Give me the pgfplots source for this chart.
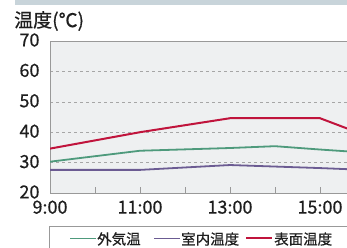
\documentclass[border=0pt]{standalone}
\usepackage{pgfplots}
\pgfplotsset{compat=1.18}
\usepackage{fontspec}
\setmainfont{Noto Sans CJK JP}[FakeBold=0.6]
\definecolor{cgreen}{HTML}{4E9A7C}
\definecolor{cpurple}{HTML}{6B5B92}
\definecolor{cred}{HTML}{C0143C}
\definecolor{bgplot}{HTML}{EEF0F1}
\definecolor{txt}{HTML}{1E1E1E}
\begin{document}
\begin{tikzpicture}[x=1pt,y=1pt]
\useasboundingbox (0,0) rectangle (347,248);
\clip (0,0) rectangle (347,248);
\fill[color=white] (0,0) rectangle (347,248);
\fill[color={rgb,255:red,200;green,212;blue,218}] (15,243) rectangle (347,248);
\node[anchor=west, inner sep=0pt, font=\fontsize{19}{19}\selectfont, text=txt] at (14,227) {温度(℃)};
\begin{axis}[
  at={(50pt,55pt)}, anchor=south west,
  scale only axis, width=315pt, height=152pt,
  xmin=9, xmax=16, ymin=20, ymax=70,
  xtick={9,10,11,12,13,14,15,16},
  xticklabels={9:00,,11:00,,13:00,,15:00,},
  ytick={20,30,40,50,60,70},
  xtick pos=bottom, tick align=inside,
  major tick length=6pt,
  ytick style={draw=none},
  xtick style={color=gray!80, line width=0.6pt},
  ymajorgrids=true,
  grid style={dashed, color=gray!70, line width=0.5pt},
  axis line style={color=gray!80, line width=0.8pt},
  axis background/.style={fill=bgplot},
  ticklabel style={font=\fontsize{18}{18}\selectfont, text=txt},
  /pgf/number format/assume math mode=true,
  yticklabel style={xshift=-7pt, yshift=1pt},
  xticklabel style={yshift=-4pt},
  clip=true,
]
\addplot[cgreen, line width=1.8pt] coordinates {(9,30.3) (11,33.9) (13,34.8) (14,35.4) (15,34.3) (16,33.3)};
\addplot[cpurple, line width=1.8pt] coordinates {(9,27.6) (11,27.6) (13,29.2) (15,28.2) (16,27.6)};
\addplot[cred, line width=2pt] coordinates {(9,34.6) (11,40) (13,44.6) (15,44.6) (16,39)};
\end{axis}
\draw[color=gray!80, line width=0.8pt] (49,-5) -- (49,21.5) -- (360,21.5);
\draw[cgreen, line width=1.8pt] (70,9.5) -- (96,9.5);
\node[anchor=west, inner sep=0pt, font=\fontsize{14.5}{14.5}\selectfont, text=txt] at (97,9) {外気温};
\draw[cpurple, line width=1.8pt] (154,9.5) -- (180,9.5);
\node[anchor=west, inner sep=0pt, font=\fontsize{14.5}{14.5}\selectfont, text=txt] at (181,9) {室内温度};
\draw[cred, line width=2pt] (246,9.5) -- (272,9.5);
\node[anchor=west, inner sep=0pt, font=\fontsize{14.5}{14.5}\selectfont, text=txt] at (274,9) {表面温度};
\end{tikzpicture}
\end{document}
